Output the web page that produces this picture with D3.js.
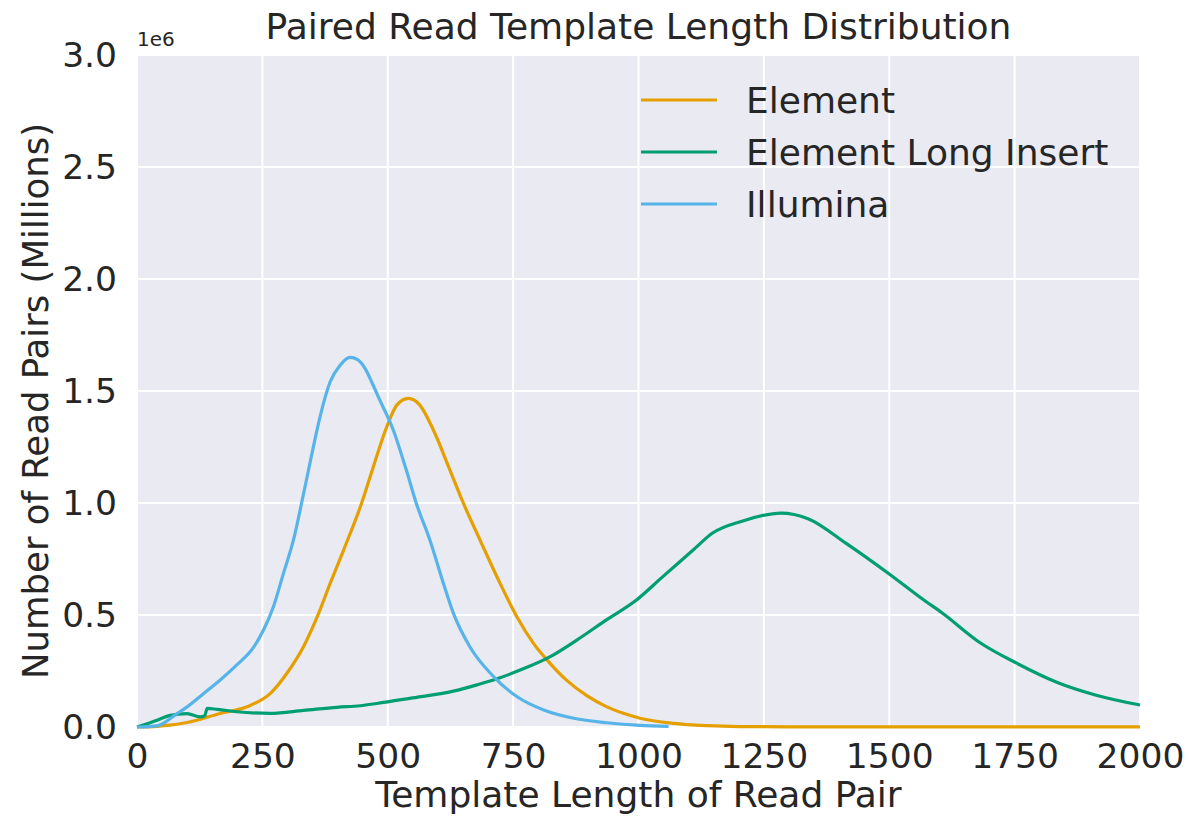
<!DOCTYPE html>
<html>
<head>
<meta charset="utf-8">
<script src="https://cdn.jsdelivr.net/npm/d3@7"></script>
<style>
  body { margin: 0; background: #fff; }
  text { font-family: "DejaVu Sans", sans-serif; fill: #262626; }
</style>
</head>
<body>
<div id="chart"></div>
<script>
// template length (bp) and read pair counts (millions)
var elementLen = [0, 40, 66, 100, 166, 219, 266, 299, 332, 359, 385, 412, 448, 471, 498, 518, 541, 564, 591, 624, 651, 684, 724, 758, 791, 824, 857, 897, 936, 970, 1003, 1070, 1136, 1202, 1300, 1500, 2000];
var elementVal = [0, 0.003, 0.008, 0.02, 0.06, 0.09, 0.15, 0.24, 0.358, 0.49, 0.64, 0.79, 1.0, 1.16, 1.34, 1.437, 1.467, 1.437, 1.326, 1.147, 0.998, 0.835, 0.641, 0.49, 0.372, 0.283, 0.208, 0.14, 0.091, 0.061, 0.039, 0.016, 0.006, 0.002, 0.001, 0.0005, 0.0005];

var longLen = [0, 40, 66, 100, 126, 135, 140, 160, 199, 266, 332, 399, 445, 478, 544, 631, 678, 718, 764, 824, 877, 936, 996, 1048, 1109, 1147, 1208, 1284, 1338, 1414, 1502, 1567, 1605, 1682, 1754, 1834, 1911, 2000];
var longVal = [0, 0.03, 0.052, 0.06, 0.045, 0.05, 0.083, 0.079, 0.068, 0.061, 0.074, 0.088, 0.095, 0.105, 0.128, 0.16, 0.188, 0.215, 0.254, 0.314, 0.388, 0.478, 0.567, 0.67, 0.79, 0.865, 0.92, 0.955, 0.93, 0.82, 0.68, 0.57, 0.51, 0.375, 0.285, 0.20, 0.143, 0.098];

var illuminaLen = [0, 40, 80, 100, 133, 166, 199, 233, 252, 272, 292, 312, 332, 346, 365, 385, 405, 425, 440, 455, 470, 484, 511, 537, 557, 584, 611, 631, 664, 711, 758, 811, 871, 936, 1003, 1060];
var illuminaVal = [0, 0.005, 0.06, 0.09, 0.15, 0.21, 0.277, 0.358, 0.432, 0.537, 0.686, 0.835, 1.04, 1.19, 1.385, 1.54, 1.615, 1.65, 1.64, 1.60, 1.53, 1.46, 1.326, 1.147, 0.998, 0.835, 0.641, 0.507, 0.357, 0.225, 0.135, 0.076, 0.039, 0.019, 0.007, 0.003];

var seriesNames = ["Element", "Element Long Insert", "Illumina"];
var seriesColors = ["#E69F00", "#009E73", "#56B4E9"];
var xTicks = [0, 250, 500, 750, 1000, 1250, 1500, 1750, 2000];
var yTicks = [0, 0.5, 1.0, 1.5, 2.0, 2.5, 3.0];

const W = 1189, H = 819;
const margin = {top: 55, right: 49, bottom: 92, left: 137},
      width = W - margin.left - margin.right,
      height = H - margin.top - margin.bottom;

var svg = d3.select("#chart")
  .append("svg")
  .attr("width", W)
  .attr("height", H)
  .append("g")
  .attr("transform", "translate(" + margin.left + "," + margin.top + ")");

var x = d3.scaleLinear().domain([0, 2000]).range([0, width]);
var y = d3.scaleLinear().domain([0, 3]).range([height, 0]);

svg.append("rect")
  .attr("width", width)
  .attr("height", height)
  .style("fill", "#EAEAF2");

// grid
svg.append("g")
  .selectAll("line")
  .data(xTicks)
  .enter()
  .append("line")
  .attr("x1", function(d) {return x(d);})
  .attr("x2", function(d) {return x(d);})
  .attr("y1", 0)
  .attr("y2", height)
  .style("stroke", "#fff")
  .style("stroke-width", 2);

svg.append("g")
  .selectAll("line")
  .data(yTicks)
  .enter()
  .append("line")
  .attr("x1", 0)
  .attr("x2", width)
  .attr("y1", function(d) {return y(d);})
  .attr("y2", function(d) {return y(d);})
  .style("stroke", "#fff")
  .style("stroke-width", 2);

var xAxis = d3.axisBottom(x).tickValues(xTicks).tickSize(0).tickPadding(17)
  .tickFormat(d3.format("d"));
var yAxis = d3.axisLeft(y).tickValues(yTicks).tickSize(0).tickPadding(20)
  .tickFormat(d3.format(".1f"));

svg.append("g")
  .attr("class", "axis-x")
  .attr("transform", "translate(0," + height + ")")
  .call(xAxis);
svg.append("g")
  .attr("class", "axis-y")
  .call(yAxis);

svg.selectAll(".domain").remove();
svg.selectAll(".tick text")
  .style("font-family", "DejaVu Sans, sans-serif")
  .style("font-size", "34.5px")
  .style("fill", "#262626");

// lines
var series = [
  {name: seriesNames[0], color: seriesColors[0], data: d3.zip(elementLen, elementVal)},
  {name: seriesNames[1], color: seriesColors[1], data: d3.zip(longLen, longVal)},
  {name: seriesNames[2], color: seriesColors[2], data: d3.zip(illuminaLen, illuminaVal)}
];

var line = d3.line()
  .curve(d3.curveMonotoneX)
  .x(function(d) {return x(d[0]);})
  .y(function(d) {return y(d[1]);});

svg.selectAll(".series")
  .data(series)
  .enter()
  .append("path")
  .attr("class", "series")
  .attr("d", function(d) {return line(d.data);})
  .style("fill", "none")
  .style("stroke", function(d) {return d.color;})
  .style("stroke-width", 3.2);

// legend
var legend = svg.append("g")
  .attr("transform", "translate(" + (x(1005) - x(0)) + ",0)");
var leg = legend.selectAll(".leg")
  .data(series)
  .enter()
  .append("g")
  .attr("class", "leg")
  .attr("transform", function(d, i) {return "translate(0," + (45 + i * 52) + ")";});
leg.append("line")
  .attr("x1", 0)
  .attr("x2", 76)
  .style("stroke", function(d) {return d.color;})
  .style("stroke-width", 3.2);
leg.append("text")
  .attr("x", 105)
  .attr("dy", "0.35em")
  .style("font-size", "36px")
  .text(function(d) {return d.name;});

// titles
svg.append("text")
  .attr("x", width / 2)
  .attr("y", -16)
  .style("text-anchor", "middle")
  .style("font-size", "36px")
  .text("Paired Read Template Length Distribution");

svg.append("text")
  .attr("x", 0)
  .attr("y", -9)
  .style("font-size", "20px")
  .text("1e6");

svg.append("text")
  .attr("x", width / 2)
  .attr("y", height + 80)
  .style("text-anchor", "middle")
  .style("font-size", "36px")
  .text("Template Length of Read Pair");

svg.append("text")
  .attr("transform", "rotate(-90)")
  .attr("x", -height / 2 - 10)
  .attr("y", -89)
  .style("text-anchor", "middle")
  .style("font-size", "35.5px")
  .text("Number of Read Pairs (Millions)");
</script>
</body>
</html>
